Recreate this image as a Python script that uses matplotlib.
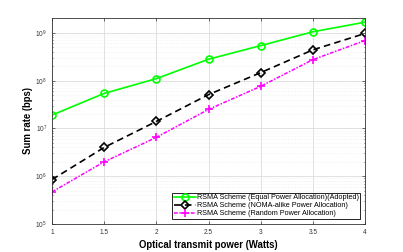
import matplotlib
matplotlib.use("Agg")
import matplotlib.pyplot as plt
from matplotlib.ticker import LogLocator, NullFormatter

power = [1, 1.5, 2, 2.5, 3, 3.5, 4]
equal_alloc = [1.9e7, 5.4e7, 1.1e8, 2.8e8, 5.4e8, 1.05e9, 1.67e9]
noma_alloc = [8.5e5, 4.0e6, 1.4e7, 5.1e7, 1.47e8, 4.4e8, 9.7e8]
random_alloc = [4.7e5, 2.0e6, 6.5e6, 2.5e7, 7.6e7, 2.75e8, 6.9e8]
labels = ["RSMA Scheme (Equal Power Allocation)(Adopted)",
          "RSMA Scheme (NOMA-alike Power Allocation)",
          "RSMA Scheme (Random Power Allocation)"]
xticks = [1, 1.5, 2, 2.5, 3, 3.5, 4]

plt.rcParams['font.family'] = ['Liberation Sans', 'DejaVu Sans']
fig = plt.figure(figsize=(4.03, 2.52), dpi=100)
ax = fig.add_axes([0.129, 0.111, 0.777, 0.818])

ax.plot(power, equal_alloc, '-o', color='#00ff00', lw=1.2, ms=5,
        mfc='none', mew=1.2, label=labels[0])
ax.plot(power, noma_alloc, 'D', ls=(0, (4, 2.5)), color='black', lw=1.2, ms=4,
        mfc='none', mew=1.2, label=labels[1])
ax.plot(power, random_alloc, '+', ls=(0, (2.5, 1, 1, 1)), color='#ff00ff', lw=1.1, ms=6,
        mew=1.2, label=labels[2])

ax.set_yscale('log')
ax.set_xlim(1, 4)
ax.set_ylim(1e5, 2.05e9)
ax.set_xticks(xticks)
ax.set_xticklabels([f"{v:g}" for v in xticks])
ax.yaxis.set_major_locator(LogLocator(base=10, numticks=10))
ax.yaxis.set_minor_locator(LogLocator(base=10, subs=range(2, 10), numticks=100))
ax.yaxis.set_minor_formatter(NullFormatter())

ax.grid(True, which='major', color='#dcdcdc', lw=0.6)
ax.grid(True, which='minor', color='#e6e6e6', lw=0.4, ls=':')
ax.set_axisbelow(True)
ax.tick_params(which='both', direction='in', top=True, right=True,
               labelsize=4.7, colors='#333333', length=2, width=0.5)
ax.tick_params(which='minor', length=1)
for s in ax.spines.values():
    s.set_color('#333333')
    s.set_linewidth(0.6)

ax.set_xlabel('Optical transmit power (Watts)', fontsize=6.9, fontweight='bold', labelpad=3)
ax.set_ylabel('Sum rate (bps)', fontsize=6.9, fontweight='bold', labelpad=2)

leg = ax.legend(loc='lower right', fontsize=5.2, frameon=True, fancybox=False,
                edgecolor='black', framealpha=1, borderpad=0.2, labelspacing=0.15,
                handlelength=3.0, handletextpad=0.2, borderaxespad=0,
                bbox_to_anchor=(0.985, 0.025))
leg.get_frame().set_linewidth(0.6)

fig.savefig('out.png', dpi=100)
